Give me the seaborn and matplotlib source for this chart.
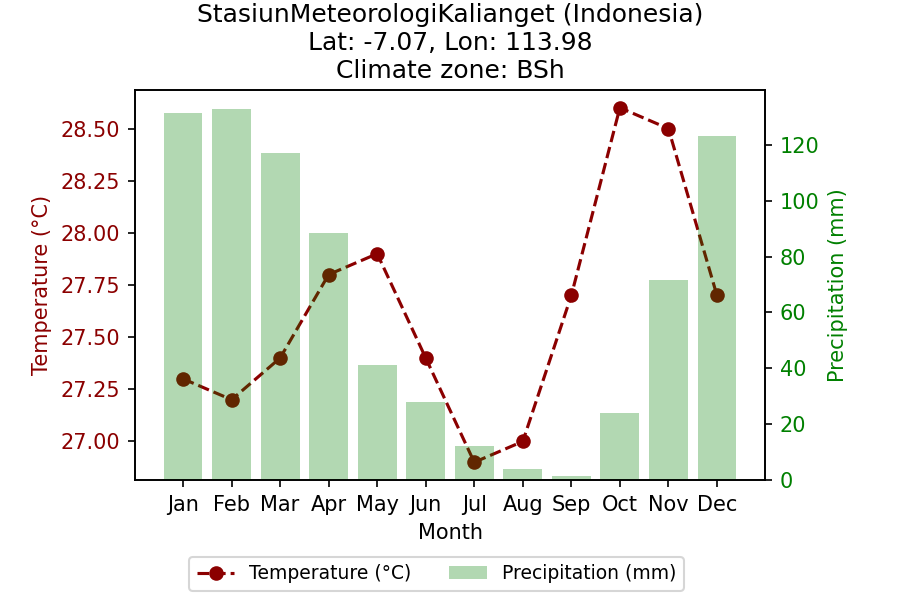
import matplotlib
matplotlib.use("Agg")
import matplotlib.pyplot as plt
import seaborn as sns
import pandas as pd

# monthly climate normals
months = ["Jan", "Feb", "Mar", "Apr", "May", "Jun", "Jul", "Aug", "Sep", "Oct", "Nov", "Dec"]
temperature = [27.3, 27.2, 27.4, 27.8, 27.9, 27.4, 26.9, 27.0, 27.7, 28.6, 28.5, 27.7]
precipitation = [131.5, 133.0, 117.0, 88.5, 41.0, 28.0, 12.0, 4.0, 1.5, 24.0, 71.5, 123.0]

station = "StasiunMeteorologiKalianget"
country = "Indonesia"
lat, lon = -7.07, 113.98
zone = "BSh"

df = pd.DataFrame({"Month": months, "Temperature": temperature, "Precipitation": precipitation})

fig, ax1 = plt.subplots(figsize=(6, 4), dpi=150)
ax2 = ax1.twinx()

sns.lineplot(data=df, x="Month", y="Temperature", ax=ax1, color="darkred",
             linestyle="--", marker="o", markersize=7, markeredgewidth=0,
             label="Temperature (°C)", legend=False)
sns.barplot(data=df, x="Month", y="Precipitation", ax=ax2, color="green",
            alpha=0.3, saturation=1, label="Precipitation (mm)")

# same padding as a plain plt.bar autoscale
ax1.set_xlim(-0.99, 11.99)
ax2.set_xlim(-0.99, 11.99)

ax1.set_xlabel("Month")
ax1.set_ylabel("Temperature (°C)", color="darkred")
ax1.tick_params(axis="y", labelcolor="darkred")
ax2.set_ylabel("Precipitation (mm)", color="green")
ax2.tick_params(axis="y", labelcolor="green")

ax1.set_title(f"{station} ({country})\nLat: {lat}, Lon: {lon}\nClimate zone: {zone}", fontsize=12)

h1, l1 = ax1.get_legend_handles_labels()
h2, l2 = ax2.get_legend_handles_labels()
if ax2.get_legend() is not None:
    ax2.get_legend().remove()
ax1.legend(h1 + h2, l1 + l2, loc="upper center", bbox_to_anchor=(0.4786, -0.173),
           ncol=2, fontsize=9)

fig.subplots_adjust(left=0.15, right=0.85, top=0.85, bottom=0.2)
fig.savefig("out.png", dpi=150)
